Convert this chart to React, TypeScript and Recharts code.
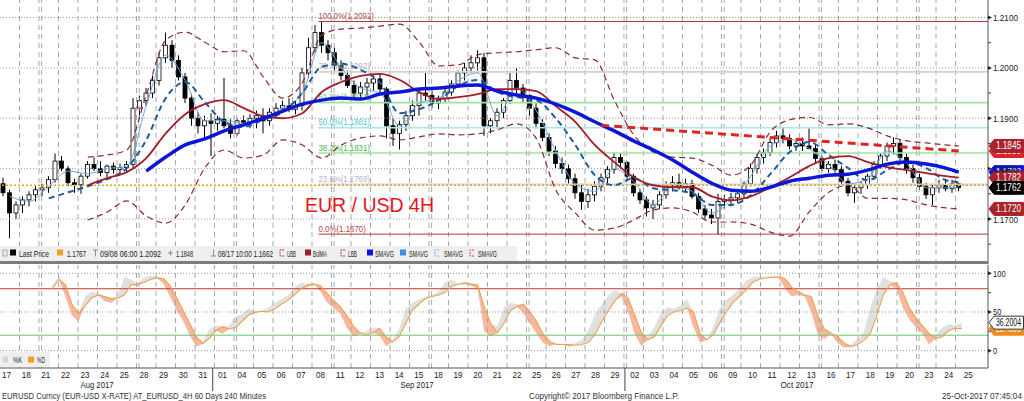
import React from 'react'
import { Area, Bar, ComposedChart, Line, ReferenceLine, XAxis, YAxis } from 'recharts'

document.body.style.margin = '0'

// trading days on the x axis (Aug 17 .. Oct 25 2017), 3 candles of 8h each per day
const days = ['17', '18', '21', '22', '23', '24', '25', '28', '29', '30', '31', '01', '04', '05', '06', '07', '08', '11', '12', '13', '14', '15', '18', '19', '20', '21', '22', '25', '26', '27', '28', '29', '02', '03', '04', '05', '06', '09', '10', '11', '12', '13', '16', '17', '18', '19', '20', '23', '24', '25']
const weekStarts = [2, 7, 12, 17, 22, 27, 32, 37, 42, 47]
const monthStarts = [11, 32]

const opens = [
	1.1770, 1.1752, 1.1712, 1.1728, 1.1738, 1.1748, 1.1758, 1.1762, 1.1778, 1.1815,
	1.1800, 1.1772, 1.1768, 1.1785, 1.1808, 1.1800, 1.1792, 1.1805, 1.1798, 1.1802,
	1.1808, 1.1920, 1.1935, 1.1950, 1.1975, 1.2020, 1.2045, 1.2015, 1.1982, 1.1940,
	1.1900, 1.1885, 1.1895, 1.1890, 1.1898, 1.1885, 1.1870, 1.1895, 1.1892, 1.1900,
	1.1905, 1.1895, 1.1912, 1.1920, 1.1925, 1.1918, 1.1925, 1.1990, 1.2040, 1.2070,
	1.2045, 1.2030, 1.2005, 1.1985, 1.1965, 1.1950, 1.1962, 1.1970, 1.1978, 1.1958,
	1.1885, 1.1870, 1.1888, 1.1905, 1.1925, 1.1950, 1.1945, 1.1930, 1.1940, 1.1952,
	1.1968, 1.1990, 1.2000, 1.2010, 1.2020, 1.1885, 1.1895, 1.1912, 1.1935, 1.1975,
	1.1960, 1.1945, 1.1920, 1.1890, 1.1862, 1.1835, 1.1810, 1.1800, 1.1780, 1.1752,
	1.1735, 1.1748, 1.1765, 1.1782, 1.1798, 1.1822, 1.1812, 1.1785, 1.1752, 1.1738,
	1.1722, 1.1728, 1.1748, 1.1768, 1.1772, 1.1765, 1.1770, 1.1745, 1.1720, 1.1708,
	1.1702, 1.1735, 1.1738, 1.1742, 1.1750, 1.1770, 1.1800, 1.1822, 1.1832, 1.1852,
	1.1865, 1.1860, 1.1845, 1.1850, 1.1845, 1.1840, 1.1820, 1.1800, 1.1808, 1.1798,
	1.1775, 1.1752, 1.1762, 1.1768, 1.1785, 1.1808, 1.1825, 1.1845, 1.1850, 1.1822,
	1.1800, 1.1782, 1.1765, 1.1748, 1.1762, 1.1768, 1.1760, 1.1770,
]
const highs = [
	1.1782, 1.1758, 1.1735, 1.1745, 1.1755, 1.1765, 1.1770, 1.1785, 1.1830, 1.1825,
	1.1805, 1.1780, 1.1790, 1.1815, 1.1822, 1.1815, 1.1808, 1.1812, 1.1810, 1.1815,
	1.1940, 1.1945, 1.1960, 1.1985, 1.2030, 1.2070, 1.2055, 1.2025, 1.1990, 1.1948,
	1.1912, 1.1905, 1.1910, 1.1905, 1.1980, 1.1898, 1.1900, 1.1905, 1.1908, 1.1915,
	1.1920, 1.1920, 1.1930, 1.1935, 1.1940, 1.1935, 1.2000, 1.2060, 1.2085, 1.2092,
	1.2055, 1.2040, 1.2015, 1.1995, 1.1975, 1.1972, 1.1980, 1.1985, 1.1990, 1.1962,
	1.1900, 1.1895, 1.1915, 1.1935, 1.1960, 1.1990, 1.1955, 1.1945, 1.1960, 1.1975,
	1.1995, 1.2010, 1.2025, 1.2035, 1.2030, 1.1900, 1.1920, 1.1940, 1.1990, 1.2000,
	1.1968, 1.1948, 1.1930, 1.1898, 1.1870, 1.1845, 1.1822, 1.1808, 1.1790, 1.1770,
	1.1760, 1.1775, 1.1790, 1.1805, 1.1832, 1.1830, 1.1815, 1.1790, 1.1760, 1.1745,
	1.1738, 1.1755, 1.1775, 1.1785, 1.1790, 1.1780, 1.1778, 1.1752, 1.1728, 1.1720,
	1.1750, 1.1748, 1.1752, 1.1760, 1.1775, 1.1810, 1.1830, 1.1840, 1.1860, 1.1875,
	1.1880, 1.1868, 1.1858, 1.1862, 1.1880, 1.1848, 1.1825, 1.1815, 1.1818, 1.1805,
	1.1782, 1.1770, 1.1775, 1.1790, 1.1815, 1.1830, 1.1852, 1.1862, 1.1858, 1.1830,
	1.1808, 1.1790, 1.1772, 1.1770, 1.1778, 1.1780, 1.1778, 1.1772,
]
const lows = [
	1.1745, 1.1662, 1.1700, 1.1712, 1.1725, 1.1735, 1.1745, 1.1752, 1.1772, 1.1795,
	1.1765, 1.1752, 1.1750, 1.1780, 1.1795, 1.1785, 1.1782, 1.1790, 1.1790, 1.1792,
	1.1800, 1.1905, 1.1925, 1.1940, 1.1965, 1.2010, 1.2000, 1.1975, 1.1930, 1.1885,
	1.1870, 1.1860, 1.1825, 1.1875, 1.1880, 1.1860, 1.1865, 1.1885, 1.1880, 1.1880,
	1.1870, 1.1885, 1.1900, 1.1910, 1.1912, 1.1908, 1.1915, 1.1980, 1.2030, 1.2030,
	1.2015, 1.1995, 1.1975, 1.1960, 1.1940, 1.1938, 1.1945, 1.1955, 1.1950, 1.1860,
	1.1845, 1.1838, 1.1875, 1.1895, 1.1905, 1.1935, 1.1920, 1.1918, 1.1930, 1.1945,
	1.1960, 1.1975, 1.1990, 1.1995, 1.1865, 1.1870, 1.1880, 1.1900, 1.1928, 1.1950,
	1.1930, 1.1905, 1.1880, 1.1855, 1.1825, 1.1800, 1.1790, 1.1770, 1.1740, 1.1718,
	1.1722, 1.1735, 1.1755, 1.1770, 1.1790, 1.1800, 1.1775, 1.1745, 1.1730, 1.1705,
	1.1700, 1.1720, 1.1740, 1.1755, 1.1758, 1.1755, 1.1740, 1.1712, 1.1700, 1.1690,
	1.1669, 1.1720, 1.1725, 1.1732, 1.1740, 1.1765, 1.1790, 1.1810, 1.1825, 1.1842,
	1.1850, 1.1838, 1.1835, 1.1835, 1.1838, 1.1812, 1.1795, 1.1792, 1.1790, 1.1768,
	1.1745, 1.1732, 1.1750, 1.1760, 1.1778, 1.1800, 1.1815, 1.1828, 1.1815, 1.1790,
	1.1772, 1.1758, 1.1740, 1.1728, 1.1752, 1.1755, 1.1752, 1.1755,
]
const closes = [
	1.1752, 1.1712, 1.1728, 1.1738, 1.1748, 1.1758, 1.1762, 1.1778, 1.1815, 1.1800,
	1.1772, 1.1768, 1.1785, 1.1808, 1.1800, 1.1792, 1.1805, 1.1798, 1.1802, 1.1808,
	1.1920, 1.1935, 1.1950, 1.1975, 1.2020, 1.2045, 1.2015, 1.1982, 1.1940, 1.1900,
	1.1885, 1.1895, 1.1890, 1.1898, 1.1885, 1.1870, 1.1895, 1.1892, 1.1900, 1.1905,
	1.1895, 1.1912, 1.1920, 1.1925, 1.1918, 1.1925, 1.1990, 1.2040, 1.2070, 1.2045,
	1.2030, 1.2005, 1.1985, 1.1965, 1.1950, 1.1962, 1.1970, 1.1978, 1.1958, 1.1885,
	1.1870, 1.1888, 1.1905, 1.1925, 1.1950, 1.1945, 1.1930, 1.1940, 1.1952, 1.1968,
	1.1990, 1.2000, 1.2010, 1.2020, 1.1885, 1.1895, 1.1912, 1.1935, 1.1975, 1.1960,
	1.1945, 1.1920, 1.1890, 1.1862, 1.1835, 1.1810, 1.1800, 1.1780, 1.1752, 1.1735,
	1.1748, 1.1765, 1.1782, 1.1798, 1.1822, 1.1812, 1.1785, 1.1752, 1.1738, 1.1722,
	1.1728, 1.1748, 1.1768, 1.1772, 1.1765, 1.1770, 1.1745, 1.1720, 1.1708, 1.1702,
	1.1735, 1.1738, 1.1742, 1.1750, 1.1770, 1.1800, 1.1822, 1.1832, 1.1852, 1.1865,
	1.1860, 1.1845, 1.1850, 1.1845, 1.1840, 1.1820, 1.1800, 1.1808, 1.1798, 1.1775,
	1.1752, 1.1762, 1.1768, 1.1785, 1.1808, 1.1825, 1.1845, 1.1850, 1.1822, 1.1800,
	1.1782, 1.1765, 1.1748, 1.1762, 1.1768, 1.1760, 1.1770, 1.1762,
]

// studies, one value per day (first value belongs to the start day)
const smaSlowStart = 7
const smaSlow = [
	1.1795,
	1.1823, 1.1847, 1.1859, 1.1875, 1.1887, 1.1900, 1.1914, 1.1928, 1.1936, 1.1940,
	1.1938, 1.1948, 1.1952, 1.1958, 1.1960, 1.1964, 1.1966, 1.1954, 1.1946, 1.1940,
	1.1928, 1.1912, 1.1893, 1.1875, 1.1855, 1.1837, 1.1817, 1.1793, 1.1771, 1.1757,
	1.1755, 1.1763, 1.1775, 1.1781, 1.1787, 1.1789, 1.1797, 1.1809, 1.1813, 1.1809,
	1.1801, 1.1793,
]
const bandStart = 4
const bbMid = [
	1.1767, 1.1781, 1.1793, 1.1821, 1.1870, 1.1908, 1.1928, 1.1936, 1.1920, 1.1904,
	1.1900, 1.1910, 1.1952, 1.1972, 1.1984, 1.1988, 1.1976, 1.1952, 1.1938, 1.1942,
	1.1948, 1.1958, 1.1958, 1.1954, 1.1924, 1.1893, 1.1847, 1.1813, 1.1783, 1.1767,
	1.1763, 1.1763, 1.1745, 1.1737, 1.1745, 1.1763, 1.1783, 1.1805, 1.1821, 1.1825,
	1.1813, 1.1803, 1.1797, 1.1791, 1.1785, 1.1782,
]
const bbUpper = [
	1.1823, 1.1827, 1.1837, 1.1946, 1.2055, 1.2071, 1.2051, 1.2032, 1.2034, 1.1982,
	1.1940, 1.1970, 1.2065, 1.2077, 1.2079, 1.2083, 1.2087, 1.2051, 1.2004, 1.2006,
	1.2026, 1.2030, 1.2032, 1.2036, 1.2040, 1.2020, 1.2016, 1.1936, 1.1867, 1.1833,
	1.1823, 1.1821, 1.1807, 1.1787, 1.1807, 1.1873, 1.1897, 1.1902, 1.1887, 1.1889,
	1.1881, 1.1865, 1.1855, 1.1851, 1.1847, 1.1845,
]
const bbLower = [
	1.1698, 1.1714, 1.1736, 1.1706, 1.1692, 1.1728, 1.1801, 1.1837, 1.1821, 1.1827,
	1.1857, 1.1847, 1.1821, 1.1847, 1.1861, 1.1865, 1.1857, 1.1863, 1.1869, 1.1867,
	1.1869, 1.1877, 1.1889, 1.1860, 1.1758, 1.1712, 1.1678, 1.1682, 1.1698, 1.1718,
	1.1722, 1.1714, 1.1694, 1.1694, 1.1690, 1.1674, 1.1666, 1.1714, 1.1753, 1.1767,
	1.1741, 1.1741, 1.1738, 1.1728, 1.1722, 1.1720,
]
const smaMidStart = 2
const smaMid = [
	1.1741, 1.1753, 1.1765, 1.1779, 1.1801, 1.1857, 1.1940, 1.1972, 1.1932, 1.1893,
	1.1883, 1.1897, 1.1912, 1.1950, 1.2002, 1.2008, 1.1996, 1.1970, 1.1910, 1.1918,
	1.1936, 1.1964, 1.1976, 1.1952, 1.1942, 1.1936, 1.1900, 1.1847, 1.1787, 1.1767,
	1.1781, 1.1761, 1.1757, 1.1751, 1.1728, 1.1728, 1.1747, 1.1789, 1.1833, 1.1853,
	1.1827, 1.1801, 1.1777, 1.1797, 1.1813, 1.1801, 1.1777, 1.1773,
]
const smaFast = [
	1.1745, 1.1735, 1.1765, 1.1795, 1.1790, 1.1800, 1.1805, 1.1925, 1.2025, 1.1975,
	1.1895, 1.1895, 1.1890, 1.1900, 1.1920, 1.1950, 1.2050, 1.2000, 1.1960, 1.1950,
	1.1885, 1.1930, 1.1940, 1.1975, 1.1990, 1.1905, 1.1960, 1.1915, 1.1835, 1.1770,
	1.1755, 1.1800, 1.1775, 1.1728, 1.1765, 1.1755, 1.1712, 1.1738, 1.1785, 1.1845,
	1.1858, 1.1840, 1.1808, 1.1770, 1.1780, 1.1835, 1.1810, 1.1762, 1.1762, 1.1764,
]

const fibPct = ['100.0%', '76.4%', '61.8%', '50.0%', '38.2%', '23.6%', '0.0%']
const fibValues = [1.2092, 1.1992, 1.1931, 1.1881, 1.1831, 1.1769, 1.167]
const fibLineColors = ['#b23a3a', '#d2d2d2', '#9ee49e', '#a8e6f0', '#9ee49e', '#d4d4dc', '#b23a3a']
const fibTextColors = ['#b04848', '#b4b4b4', '#5cc05c', '#4ec4d6', '#4cb84c', '#b4b4c4', '#b04848']
const fibFrom = 49

const trendStart = { i: 92.5, v: 1.1886 }
const trendEnd = { i: 147.5, v: 1.1835 }
const lastPriceLine = 1.1767

// stochastics, one value per candle from candle 8
const stochStart = 8
const stochD = [
	80, 92, 85, 60, 48, 58, 68, 72, 70, 67,
	68, 72, 85, 86, 88, 92, 94, 93, 84, 68,
	52, 35, 18, 9, 16, 26, 31, 28, 30, 38,
	46, 50, 51, 50, 54, 60, 65, 72, 80, 85,
	86, 84, 74, 65, 57, 45, 32, 23, 20, 23,
	29, 18, 11, 18, 35, 52, 60, 67, 70, 72,
	75, 83, 86, 87, 86, 85, 57, 35, 23, 35,
	52, 57, 60, 50, 38, 22, 12, 8, 8, 8,
	7, 8, 11, 22, 38, 52, 65, 74, 68, 46,
	24, 14, 18, 32, 45, 50, 52, 55, 50, 22,
	14, 20, 36, 50, 62, 70, 78, 88, 92, 94,
	95, 95, 93, 82, 76, 72, 70, 45, 28, 22,
	18, 10, 5, 8, 13, 22, 45, 72, 85, 88,
	75, 55, 42, 32, 22, 16, 18, 26, 29, 28.4,
]
const stochK = [
	85, 96, 70, 45, 38, 70, 76, 74, 64, 62,
	72, 95, 92, 84, 94, 97, 96, 86, 70, 52,
	38, 20, 5, 12, 28, 33, 22, 32, 44, 47,
	55, 48, 52, 55, 62, 66, 72, 82, 88, 82,
	86, 76, 62, 55, 48, 30, 18, 22, 25, 30,
	20, 6, 14, 28, 54, 62, 66, 70, 72, 76,
	88, 92, 86, 90, 84, 80, 25, 18, 32, 55,
	62, 60, 48, 35, 22, 10, 6, 10, 8, 5,
	10, 14, 28, 48, 60, 72, 78, 70, 50, 22,
	6, 18, 30, 48, 56, 54, 58, 66, 30, 10,
	15, 30, 55, 66, 72, 80, 90, 95, 96, 95,
	96, 94, 80, 70, 72, 70, 50, 20, 15, 25,
	10, 4, 8, 14, 24, 55, 80, 95, 90, 80,
	55, 40, 30, 22, 8, 20, 30, 34, 33, 36.2004,
]

const priceTicks = [1.165, 1.17, 1.175, 1.18, 1.185, 1.19, 1.195, 1.2, 1.205, 1.21]
const stochTicks = [0, 25, 50, 75, 100]

const SLOTS = 152
const CANDLES = opens.length
const SLOT_W = 988 / SLOTS
const PRICE_DOMAIN = [1.161067, 1.213474]
const STOCH_DOMAIN = [-22.4, 110.7]

const rows: any[] = Array.from({ length: SLOTS }, (_, i) => {
	const r: any = { i, n: i + 0.5 }
	if (i < CANDLES) {
		r.open = opens[i]
		r.high = highs[i]
		r.low = lows[i]
		r.close = closes[i]
	}
	if (i >= stochStart && i < CANDLES) {
		r.k = stochK[i - stochStart]
		r.d = stochD[i - stochStart]
	}
	return r
})
function putDaily(key: string, start: number, values: number[]) {
	values.forEach((v, j) => {
		rows[Math.min(3 * (start + j) + 1, CANDLES - 1)][key] = v
	})
}
putDaily('smaSlow', smaSlowStart, smaSlow)
putDaily('bbMid', bandStart, bbMid)
putDaily('bbUpper', bandStart, bbUpper)
putDaily('bbLower', bandStart, bbLower)
putDaily('smaMid', smaMidStart, smaMid)
putDaily('smaFast', 0, smaFast)

const dayTicks = days.map((_, d) => 3 * d + 1)
const gridDays = days.map((_, d) => d).filter((d) => d > 0)

const FONT = '"Liberation Sans", Arial, sans-serif'

function Candle(props: any) {
	const { x, y, width, height, payload } = props
	if (payload?.open == null) return null
	const { open, close, high, low } = payload
	const top = Math.min(y, y + height)
	const h = Math.abs(height)
	const span = high - low || 1
	const yOf = (v: number) => top + ((high - v) / span) * h
	const cx = x + width / 2
	const b1 = yOf(Math.max(open, close))
	const b2 = yOf(Math.min(open, close))
	const up = close >= open
	return (
		<g>
			<line x1={cx} x2={cx} y1={top} y2={top + h} stroke="#000" strokeWidth={1} />
			<rect x={x} y={b1} width={width} height={Math.max(b2 - b1, 1)} fill={up ? '#fff' : '#000'} stroke="#000" strokeWidth={0.8} />
		</g>
	)
}

function PriceTick(props: any) {
	const { x, y, payload } = props
	const v = payload.value
	const major = Math.abs(v * 100 - Math.round(v * 100)) < 1e-6
	return (
		<g>
			{major ? (
				<path d={`M${x},${y - 2} L${x + 4},${y} L${x},${y + 2} Z`} fill="#222" />
			) : (
				<line x1={x} x2={x + 3} y1={y} y2={y} stroke="#444" />
			)}
			{major && (
				<text x={x + 5} y={y + 3.5} fontSize={9} fill="#222" fontFamily={FONT} textLength={25} lengthAdjust="spacingAndGlyphs">
					{v.toFixed(4)}
				</text>
			)}
		</g>
	)
}

function StochTick(props: any) {
	const { x, y, payload } = props
	const v = payload.value
	const major = v % 50 === 0
	const s = String(v)
	return (
		<g>
			{major ? (
				<path d={`M${x},${y - 2} L${x + 4},${y} L${x},${y + 2} Z`} fill="#222" />
			) : (
				<line x1={x} x2={x + 3} y1={y} y2={y} stroke="#444" />
			)}
			{major && (
				<text x={x + 5} y={y + 3.5} fontSize={9} fill="#222" fontFamily={FONT} textLength={s.length * 4.2} lengthAdjust="spacingAndGlyphs">
					{s}
				</text>
			)}
		</g>
	)
}

function DayTick(props: any) {
	const { x, y, payload } = props
	const d = (payload.value - 1) / 3
	const boundary = x - 1.5 * SLOT_W
	return (
		<g>
			<text x={x} y={y + 10} textAnchor="middle" fontSize={9} fill="#222" fontFamily={FONT} textLength={9} lengthAdjust="spacingAndGlyphs">
				{days[d]}
			</text>
			{monthStarts.includes(d) && <line x1={boundary} x2={boundary} y1={y} y2={y + 23} stroke="#444" strokeWidth={1} />}
		</g>
	)
}

const tag = (text: string, bg: string, fg: string, border?: string) => (p: any) => {
	const vb = p.viewBox
	const x = vb.x + vb.width
	const y = vb.y
	return (
		<g>
			<path
				d={`M${x + 1},${y} L${x + 6},${y - 6.5} L${x + 35.5},${y - 6.5} L${x + 35.5},${y + 6.5} L${x + 6},${y + 6.5} Z`}
				fill={bg}
				stroke={border || bg}
				strokeWidth={1}
			/>
			<text x={x + 8} y={y + 3.5} fontSize={10} fill={fg} fontFamily={FONT} textLength={25} lengthAdjust="spacingAndGlyphs">
				{text}
			</text>
		</g>
	)
}

const fibLabel = (text: string, color: string) => (p: any) => (
	<text x={p.viewBox.x} y={p.viewBox.y - 2.5} fontSize={8.5} fill={color} fontFamily={FONT} textLength={text.length * 3.95} lengthAdjust="spacingAndGlyphs">
		{text}
	</text>
)

function gridLines(prefix: string) {
	const out: any[] = []
	gridDays.forEach((d) => {
		out.push(<ReferenceLine key={`${prefix}g${d}`} xAxisId="n" x={3 * d} stroke="#a9a9a9" strokeDasharray="5 4" />)
		if (weekStarts.includes(d)) {
			out.push(<ReferenceLine key={`${prefix}w${d}`} xAxisId="n" x={3 * d + 0.4} stroke="#a9a9a9" strokeDasharray="5 4" />)
		}
	})
	return out
}

const lastK = stochK[stochK.length - 1]
const lastD = stochD[stochD.length - 1]

export default function App() {
	return (
		<div style={{ position: 'relative', width: 1024, height: 401, background: '#fff', overflow: 'hidden', fontFamily: FONT }}>
			<div style={{ position: 'absolute', left: 0, top: 0 }}>
				<ComposedChart width={1024} height={264} data={rows} margin={{ top: 0, right: 0, bottom: 0, left: 0 }}>
					<XAxis dataKey="i" type="category" hide />
					<XAxis xAxisId="n" dataKey="n" type="number" domain={[0, SLOTS]} allowDataOverflow hide />
					<YAxis
						orientation="right"
						width={36}
						type="number"
						domain={PRICE_DOMAIN}
						allowDataOverflow
						ticks={priceTicks}
						interval={0}
						tick={(p: any) => <PriceTick {...p} />}
						tickLine={false}
						tickSize={0}
						tickMargin={0}
						axisLine={{ stroke: '#555' }}
					/>
					{gridLines('t')}
					{priceTicks
						.filter((v) => Math.abs(v * 100 - Math.round(v * 100)) < 1e-6)
						.map((v) => (
							<ReferenceLine key={`h${v}`} y={v} stroke="#9a9a9a" strokeDasharray="1 2" />
						))}
					{fibValues.map((v, j) => (
						<ReferenceLine
							key={`f${j}`}
							xAxisId="n"
							segment={[
								{ x: fibFrom, y: v },
								{ x: SLOTS, y: v },
							]}
							stroke={fibLineColors[j]}
							strokeWidth={j === 0 || j === 6 ? 1 : 1.6}
							label={fibLabel(`${fibPct[j]}(${v.toFixed(4)})`, fibTextColors[j])}
						/>
					))}
					<ReferenceLine y={lastPriceLine} stroke="#e8a317" strokeWidth={1.5} strokeDasharray="2 2" />
					<Bar
						dataKey={(r: any) => (r.open == null ? null : [r.low, r.high])}
						barSize={4}
						shape={(p: any) => <Candle {...p} />}
						isAnimationActive={false}
					/>
					<Line dataKey="smaFast" type="monotone" stroke="#6ea8dc" strokeWidth={1} dot={false} activeDot={false} connectNulls isAnimationActive={false} />
					<Line dataKey="bbUpper" type="monotone" stroke="#8c2a35" strokeWidth={1.2} strokeDasharray="6 4" dot={false} activeDot={false} connectNulls isAnimationActive={false} />
					<Line dataKey="bbLower" type="monotone" stroke="#8c2a35" strokeWidth={1.2} strokeDasharray="6 4" dot={false} activeDot={false} connectNulls isAnimationActive={false} />
					<Line dataKey="smaMid" type="monotone" stroke="#1f5a9e" strokeWidth={2} strokeDasharray="6 4" dot={false} activeDot={false} connectNulls isAnimationActive={false} />
					<Line dataKey="bbMid" type="monotone" stroke="#a31d2a" strokeWidth={1.8} dot={false} activeDot={false} connectNulls isAnimationActive={false} />
					<Line dataKey="smaSlow" type="monotone" stroke="#0b16d8" strokeWidth={3.5} dot={false} activeDot={false} connectNulls isAnimationActive={false} />
					<ReferenceLine
						xAxisId="n"
						segment={[
							{ x: trendStart.i, y: trendStart.v },
							{ x: trendEnd.i, y: trendEnd.v },
						]}
						stroke="#e02424"
						strokeWidth={3}
						strokeDasharray="8 5"
					/>
					<ReferenceLine y={trendEnd.v} stroke="none" label={tag(trendEnd.v.toFixed(4), '#d9262b', '#fff')} />
					<ReferenceLine y={bbUpper[bbUpper.length - 1]} stroke="none" label={tag(bbUpper[bbUpper.length - 1].toFixed(4), '#a8232c', '#fff')} />
					<ReferenceLine y={smaSlow[smaSlow.length - 1]} stroke="none" label={tag(smaSlow[smaSlow.length - 1].toFixed(4), '#0b16d8', '#fff')} />
					<ReferenceLine y={bbMid[bbMid.length - 1]} stroke="none" label={tag(bbMid[bbMid.length - 1].toFixed(4), '#a8232c', '#fff')} />
					<ReferenceLine y={closes[CANDLES - 1]} stroke="none" label={tag(closes[CANDLES - 1].toFixed(4), '#000', '#fff')} />
					<ReferenceLine y={bbLower[bbLower.length - 1]} stroke="none" label={tag(bbLower[bbLower.length - 1].toFixed(4), '#a8232c', '#fff')} />
				</ComposedChart>
			</div>

			<div style={{ position: 'absolute', left: 0, top: 264 }}>
				<ComposedChart width={1024} height={137} data={rows} margin={{ top: 1, right: 0, bottom: 0, left: 0 }}>
					<XAxis
						dataKey="i"
						type="category"
						ticks={dayTicks}
						interval={0}
						height={33}
						tick={(p: any) => <DayTick {...p} />}
						tickLine={false}
						tickSize={0}
						tickMargin={0}
						axisLine={{ stroke: '#555' }}
					/>
					<XAxis xAxisId="n" dataKey="n" type="number" domain={[0, SLOTS]} allowDataOverflow hide />
					<YAxis
						orientation="right"
						width={36}
						type="number"
						domain={STOCH_DOMAIN}
						allowDataOverflow
						ticks={stochTicks}
						interval={0}
						tick={(p: any) => <StochTick {...p} />}
						tickLine={false}
						tickSize={0}
						tickMargin={0}
						axisLine={{ stroke: '#555' }}
					/>
					{gridLines('b')}
					{[0, 50, 100].map((v) => (
						<ReferenceLine key={`s${v}`} y={v} stroke="#9a9a9a" strokeDasharray="1 2" />
					))}
					<ReferenceLine y={80} stroke="#c0392b" strokeWidth={1} />
					<ReferenceLine y={20} stroke="#6cc66c" strokeWidth={1} />
					<Area
						dataKey={(r: any) => (r.k == null ? null : r.k < r.d ? [r.k, r.d] : [r.d, r.d])}
						type="linear"
						stroke="none"
						fill="#f7b096"
						fillOpacity={0.9}
						dot={false}
						activeDot={false}
						isAnimationActive={false}
					/>
					<Area
						dataKey={(r: any) => (r.k == null ? null : r.k > r.d ? [r.d, r.k] : [r.d, r.d])}
						type="linear"
						stroke="none"
						fill="#e0e0e0"
						fillOpacity={1}
						dot={false}
						activeDot={false}
						isAnimationActive={false}
					/>
					<Line dataKey="d" type="linear" stroke="#eda24e" strokeWidth={1.1} dot={false} activeDot={false} isAnimationActive={false} />
					<ReferenceLine y={lastD} stroke="none" label={tag(lastD.toFixed(4), '#f08a1c', '#fff')} />
					<ReferenceLine y={lastK} stroke="none" label={tag(lastK.toFixed(4), '#fff', '#111', '#333')} />
				</ComposedChart>
			</div>

			<svg style={{ position: 'absolute', left: 0, top: 0, pointerEvents: 'none' }} width={1024} height={401} fontFamily={FONT}>
				<rect x={0} y={261} width={988} height={3} fill="#7d7d7d" />

				<text x={305} y={212} fontSize={21} fill="#e3141b" textLength={129} lengthAdjust="spacingAndGlyphs">
					EUR / USD 4H
				</text>

				<g fontSize={8.5} fill="#222">
					<rect x={0} y={246} width={517} height={15} fill="#efefef" />
					<rect x={3} y={250} width={4} height={6} fill="none" stroke="#999" strokeWidth={0.8} />
					<rect x={10} y={249.5} width={6} height={6} fill="#000" />
					<text x={19} y={256.5} textLength={30} lengthAdjust="spacingAndGlyphs">Last Price</text>
					<rect x={57} y={249.5} width={6} height={6} fill="#f0a020" />
					<text x={67} y={256.5} textLength={19} lengthAdjust="spacingAndGlyphs">1.1767</text>
					<path d="M93,250 h5 M95.5,250 v6.5" stroke="#777" strokeWidth={0.8} />
					<text x={100} y={256.5} textLength={61} lengthAdjust="spacingAndGlyphs">09/08 06:00 1.2092</text>
					<path d="M168,253 h5 M170.5,250.5 v5" stroke="#777" strokeWidth={0.8} />
					<text x={176} y={256.5} textLength={17} lengthAdjust="spacingAndGlyphs">1.1848</text>
					<path d="M211,256 h5 M213.5,249.5 v6.5" stroke="#777" strokeWidth={0.8} />
					<text x={218} y={256.5} textLength={55} lengthAdjust="spacingAndGlyphs">08/17 10:00 1.1662</text>
					<path d="M284,250 h-4 v6 h4" fill="none" stroke="#8c2a35" strokeWidth={0.9} strokeDasharray="2 1" />
					<text x={287} y={256.5} textLength={9} lengthAdjust="spacingAndGlyphs">UBB</text>
					<rect x={305} y={249.5} width={6} height={6} fill="#9b1b30" />
					<text x={313} y={256.5} textLength={14} lengthAdjust="spacingAndGlyphs">BolMA</text>
					<path d="M345,250 h-4 v6 h4" fill="none" stroke="#8c2a35" strokeWidth={0.9} strokeDasharray="2 1" />
					<text x={348} y={256.5} textLength={9} lengthAdjust="spacingAndGlyphs">LBB</text>
					<rect x={367} y={249.5} width={6} height={6} fill="#0b16d8" />
					<text x={375} y={256.5} textLength={19} lengthAdjust="spacingAndGlyphs">SMAVG</text>
					<rect x={400} y={249.5} width={6} height={6} fill="#3a8ee6" />
					<text x={409} y={256.5} textLength={19} lengthAdjust="spacingAndGlyphs">SMAVG</text>
					<path d="M439,250 h-4 v6 h4" fill="none" stroke="#6ea8dc" strokeWidth={0.9} strokeDasharray="2 1" />
					<text x={444} y={256.5} textLength={19} lengthAdjust="spacingAndGlyphs">SMAVG</text>
					<path d="M474,250 h-4 v6 h4" fill="none" stroke="#c0392b" strokeWidth={0.9} strokeDasharray="2 1" />
					<text x={478} y={256.5} textLength={19} lengthAdjust="spacingAndGlyphs">SMAVG</text>
				</g>

				<g fontSize={8.5} fill="#222">
					<rect x={0} y={352} width={50} height={15} fill="#efefef" />
					<rect x={3} y={356.5} width={5} height={6} fill="#d4d4d4" />
					<text x={13} y={363} textLength={9} lengthAdjust="spacingAndGlyphs">%K</text>
					<rect x={28} y={356.5} width={6} height={6} fill="#f0a020" />
					<text x={37} y={363} textLength={8} lengthAdjust="spacingAndGlyphs">%D</text>
				</g>

				<g fontSize={9} fill="#222">
					<text x={97} y={388} textAnchor="middle" textLength={33} lengthAdjust="spacingAndGlyphs">Aug 2017</text>
					<text x={417} y={388} textAnchor="middle" textLength={33} lengthAdjust="spacingAndGlyphs">Sep 2017</text>
					<text x={797} y={388} textAnchor="middle" textLength={33} lengthAdjust="spacingAndGlyphs">Oct 2017</text>
				</g>

				<g fontSize={8.5} fill="#333">
					<text x={2} y={399} textLength={264} lengthAdjust="spacingAndGlyphs">EURUSD Curncy (EUR-USD X-RATE) AT_EURUSD_4H 60 Days 240 Minutes</text>
					<text x={529} y={399} textLength={150} lengthAdjust="spacingAndGlyphs">Copyright© 2017 Bloomberg Finance L.P.</text>
					<text x={942} y={399} textLength={80} lengthAdjust="spacingAndGlyphs">25-Oct-2017 07:45:04</text>
				</g>
			</svg>
		</div>
	)
}
